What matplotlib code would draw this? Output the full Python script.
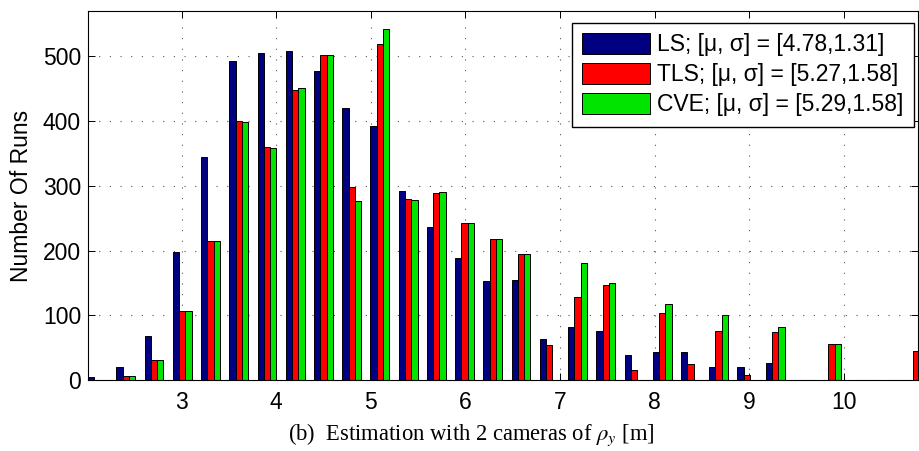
import numpy as np
import matplotlib
matplotlib.use("Agg")
import matplotlib.pyplot as plt

plt.rcParams["font.family"] = ["Liberation Sans", "DejaVu Sans"]
plt.rcParams["mathtext.fontset"] = "stix"

# histogram bin centres [m]
bin_centers = [2.110, 2.409, 2.707, 3.006, 3.304, 3.603, 3.901, 4.200, 4.498, 4.797,
               5.095, 5.394, 5.692, 5.991, 6.289, 6.588, 6.886, 7.185, 7.483, 7.782,
               8.080, 8.379, 8.677, 8.976, 9.274, 9.573, 9.871, 10.170, 10.468, 10.767]

# number of runs per bin for each estimator
ls_counts = [4, 20, 68, 197, 345, 493, 505, 508, 477, 420,
             393, 292, 236, 189, 153, 155, 64, 82, 76, 38,
             43, 44, 20, 20, 27, 0, 0, 0, 0, 0]
tls_counts = [0, 6, 31, 107, 214, 400, 360, 448, 502, 298,
              519, 280, 289, 243, 218, 195, 54, 128, 147, 15,
              103, 25, 76, 8, 74, 0, 55, 0, 0, 45]
cve_counts = [0, 6, 31, 107, 214, 399, 358, 451, 502, 277,
              542, 278, 291, 243, 218, 195, 0, 180, 150, 0,
              118, 0, 101, 0, 82, 0, 55, 0, 0, 0]

series_labels = ["LS; [\u03bc, \u03c3] = [4.78,1.31]",
                 "TLS; [\u03bc, \u03c3] = [5.27,1.58]",
                 "CVE; [\u03bc, \u03c3] = [5.29,1.58]"]
series_colors = ["#000080", "#ff0000", "#00e400"]

x_ticks = [3, 4, 5, 6, 7, 8, 9, 10]
y_ticks = [0, 100, 200, 300, 400, 500]

W, H = 920, 451
fig = plt.figure(figsize=(W / 100, H / 100), dpi=100)
ax = fig.add_axes([88 / W, 1 - 380 / H, 830 / W, 369 / H])

centers = np.asarray(bin_centers)
step = centers[1] - centers[0]
n_series = 3
bar_w = step * (n_series / (n_series + 1.5)) / n_series

handles = []
for i, (vals, col, lab) in enumerate(zip([ls_counts, tls_counts, cve_counts],
                                          series_colors, series_labels)):
    offs = (i - 1) * bar_w
    h = ax.bar(centers + offs, vals, width=bar_w, color=col, edgecolor="black",
               linewidth=0.7, label=lab, zorder=2)
    handles.append(h)

ax.set_xlim(2.009, 10.785)
ax.set_ylim(0, 570)
ax.set_xticks(x_ticks)
ax.set_yticks(y_ticks)
ax.tick_params(direction="in", length=5, width=0.7, top=True, right=True,
               labelsize=16.5, pad=5)
ax.tick_params(axis="x", pad=8)
ax.set_axisbelow(True)
ax.grid(True, color="#555555", linestyle=(0, (1, 8.6)), linewidth=0.8)
for s in ax.spines.values():
    s.set_linewidth(0.8)

ax.set_ylabel("Number Of Runs", fontsize=16.5, labelpad=7)

leg = ax.legend(handles=handles, loc="upper right",
                bbox_to_anchor=(914 / W, 1 - 22.7 / H),
                bbox_transform=fig.transFigure, borderaxespad=0,
                fontsize=16.5, handlelength=2.97, handleheight=1.02,
                handletextpad=0.3, labelspacing=0.3, borderpad=0.45,
                fancybox=False, framealpha=1, edgecolor="black")
leg.get_frame().set_linewidth(1.0)

fig.text(471 / W, 1 - 440 / H,
         "(b)  Estimation with 2 cameras of $\\rho_y$ [m]",
         family=["Liberation Serif", "DejaVu Serif"], fontsize=16.3,
         ha="center", va="baseline")

fig.savefig("out.png", dpi=100)
